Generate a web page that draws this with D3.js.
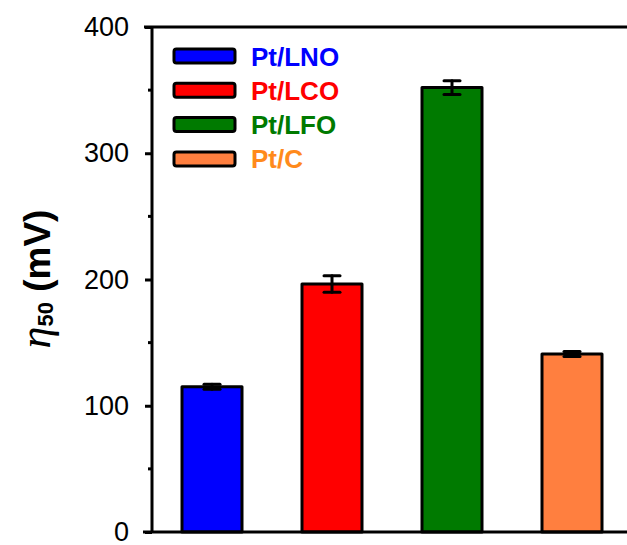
<!DOCTYPE html>
<html>
<head>
<meta charset="utf-8">
<script src="https://cdn.jsdelivr.net/npm/d3@7"></script>
<style>
  body { margin: 0; background: #fff; }
  svg { display: block; font-family: "Liberation Sans", Arial, sans-serif; }
</style>
</head>
<body>
<div id="chart"></div>
<script>
// data
var categories = ["Pt/LNO", "Pt/LCO", "Pt/LFO", "Pt/C"];
var values = [115, 196.5, 352, 141];
var errors = [2, 6.5, 5.5, 2];
var fillColors = ["#0000ff", "#ff0000", "#007a00", "#ff7f3f"];
var textColors = ["#0000ff", "#ff0000", "#007a00", "#ff8a1c"];
var majorTicks = [0, 100, 200, 300, 400];
var minorTicks = [50, 150, 250, 350];

var W = 627, H = 545;
var AXIS_X = 152, TOP_Y = 27, BOT_Y = 532;

var svg = d3.select("#chart").append("svg")
    .attr("width", W)
    .attr("height", H);

var x = d3.scaleBand()
    .domain(categories)
    .range([AXIS_X, AXIS_X + 480])
    .paddingInner(0.5)
    .paddingOuter(0.25);

var y = d3.scaleLinear()
    .domain([0, 400])
    .range([BOT_Y, TOP_Y]);

// bars
svg.selectAll(".bar")
    .data(values)
    .enter()
    .append("rect")
    .attr("class", "bar")
    .attr("x", function(d, i) { return x(categories[i]); })
    .attr("y", function(d) { return y(d); })
    .attr("width", x.bandwidth())
    .attr("height", function(d) { return y(0) - y(d); })
    .attr("fill", function(d, i) { return fillColors[i]; })
    .attr("stroke", "#000")
    .attr("stroke-width", 3)
    .attr("stroke-linejoin", "round");

// error bars
var capW = 16;
values.forEach(function(v, i) {
    var cx = x(categories[i]) + x.bandwidth() / 2;
    var g = svg.append("g").attr("stroke", "#000").attr("stroke-width", 3).attr("stroke-linecap", "round");
    g.append("line")
        .attr("x1", cx).attr("x2", cx)
        .attr("y1", y(v + errors[i])).attr("y2", y(v - errors[i]));
    g.append("line")
        .attr("x1", cx - capW / 2).attr("x2", cx + capW / 2)
        .attr("y1", y(v + errors[i])).attr("y2", y(v + errors[i]));
    g.append("line")
        .attr("x1", cx - capW / 2).attr("x2", cx + capW / 2)
        .attr("y1", y(v - errors[i])).attr("y2", y(v - errors[i]));
});

// y axis
var yAxis = d3.axisLeft(y)
    .tickValues(majorTicks)
    .tickSize(7)
    .tickPadding(16)
    .tickFormat(d3.format("d"));

var gy = svg.append("g")
    .attr("transform", "translate(" + AXIS_X + ",0)")
    .call(yAxis);
gy.select(".domain").remove();
gy.selectAll(".tick line").attr("stroke", "#000").attr("stroke-width", 3);
gy.selectAll(".tick text")
    .attr("font-size", 27)
    .attr("fill", "#000")
    .attr("font-family", "'Liberation Sans', Arial, sans-serif");

svg.append("g")
    .selectAll("line")
    .data(minorTicks)
    .enter()
    .append("line")
    .attr("x1", AXIS_X - 4).attr("x2", AXIS_X)
    .attr("y1", function(d) { return y(d); })
    .attr("y2", function(d) { return y(d); })
    .attr("stroke", "#000")
    .attr("stroke-width", 3);

// frame lines
svg.append("line")
    .attr("x1", AXIS_X).attr("x2", AXIS_X)
    .attr("y1", TOP_Y).attr("y2", BOT_Y)
    .attr("stroke", "#000").attr("stroke-width", 3);
svg.append("line")
    .attr("x1", AXIS_X - 8).attr("x2", W)
    .attr("y1", TOP_Y).attr("y2", TOP_Y)
    .attr("stroke", "#000").attr("stroke-width", 3);
svg.append("line")
    .attr("x1", AXIS_X - 9).attr("x2", W)
    .attr("y1", BOT_Y).attr("y2", BOT_Y)
    .attr("stroke", "#000").attr("stroke-width", 3);

// y label
var yl = svg.append("text")
    .attr("transform", "translate(50,279) rotate(-90)")
    .attr("text-anchor", "middle")
    .attr("font-size", 37)
    .attr("font-weight", "bold")
    .attr("fill", "#000");
yl.append("tspan")
    .attr("font-family", "'Liberation Serif', 'Times New Roman', serif")
    .attr("font-style", "italic")
    .attr("font-weight", "normal")
    .attr("font-size", 44)
    .text("\u03B7");
yl.append("tspan")
    .attr("font-size", 22)
    .attr("dy", 3)
    .text("50");
yl.append("tspan")
    .attr("dy", -3)
    .text("\u00A0(mV)");

// legend
var legend = svg.append("g");
categories.forEach(function(c, i) {
    var ly = 56 + i * 34.3;
    legend.append("rect")
        .attr("x", 174).attr("y", ly - 7)
        .attr("width", 61).attr("height", 14)
        .attr("rx", 2.5)
        .attr("fill", fillColors[i])
        .attr("stroke", "#000")
        .attr("stroke-width", 3);
    legend.append("text")
        .attr("x", 251).attr("y", ly + 9.5)
        .attr("font-size", 26)
        .attr("font-weight", "bold")
        .attr("fill", textColors[i])
        .text(c);
});
</script>
</body>
</html>
